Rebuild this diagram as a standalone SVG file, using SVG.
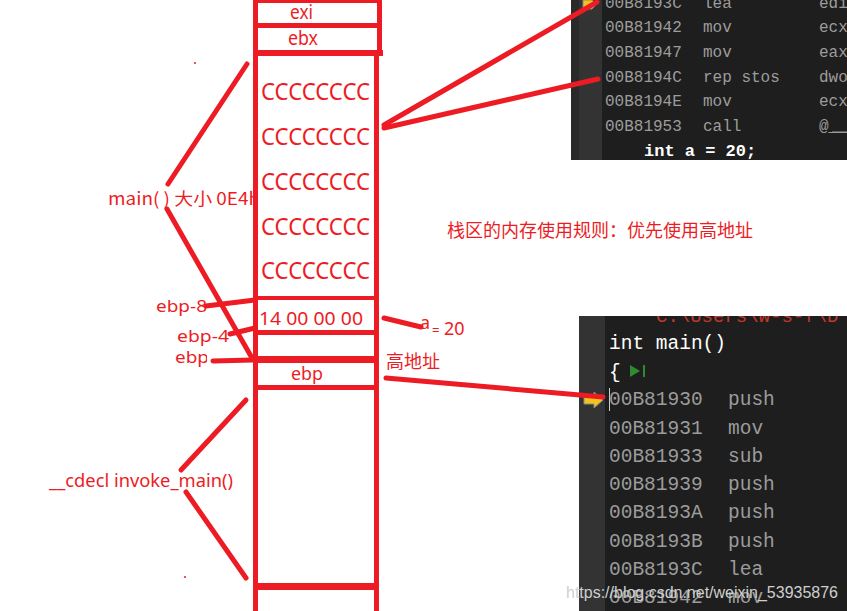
<svg xmlns="http://www.w3.org/2000/svg" width="847" height="611" viewBox="0 0 847 611">
<style>
.red{fill:#ed1c24}
.lbl{font-family:"Noto Sans","Liberation Sans",sans-serif;fill:#ed1c24}
.cjk{font-family:"Noto Sans CJK SC","Noto Sans",sans-serif;fill:#ed1c24}
.cc{font-family:"Noto Sans","Liberation Sans",sans-serif;fill:#ed1c24;font-size:24px}
.ln{stroke:#ed1c24;stroke-width:5;stroke-linecap:round;fill:none}
.mono{font-family:"Liberation Mono","DejaVu Sans Mono",monospace}
.g{fill:#9c9c9c}
.w{fill:#ffffff}
</style>
<defs>
<clipPath id="clipEbp"><rect x="150" y="340" width="57" height="30"/></clipPath>
<clipPath id="clipMain"><rect x="90" y="180" width="165" height="40"/></clipPath>
<clipPath id="clipBot"><rect x="579" y="316" width="268" height="295"/></clipPath>
</defs>
<rect width="847" height="611" fill="#ffffff"/>

<g id="code-top">
<rect x="571" y="0" width="276" height="160" fill="#1e1e1e"/>
<rect x="571" y="0" width="8" height="160" fill="#2a2a2a"/>
<rect x="579" y="0" width="23" height="160" fill="#333333"/>
<path d="M583,0 L592,0 L597,4 L592,9 L583,9 Z" fill="#f2c318" stroke="#888" stroke-width="1"/>
<g class="mono g" font-size="16">
<text x="605" y="8">00B8193C</text><text x="703" y="8">lea</text><text x="819" y="8">edi</text>
<text x="605" y="32">00B81942</text><text x="703" y="32">mov</text><text x="819" y="32">ecx</text>
<text x="605" y="57">00B81947</text><text x="703" y="57">mov</text><text x="819" y="57">eax</text>
<text x="605" y="82">00B8194C</text><text x="703" y="82">rep stos</text><text x="819" y="82">dwo</text>
<text x="605" y="106">00B8194E</text><text x="703" y="106">mov</text><text x="819" y="106">ecx</text>
<text x="605" y="131">00B81953</text><text x="703" y="131">call</text><text x="819" y="131">@__</text>
</g>
<line x1="832" y1="132" x2="847" y2="132" stroke="#9c9c9c" stroke-width="1"/>
<text x="644" y="156" class="mono w" font-size="17" font-weight="bold">int a = 20;</text>
</g>

<g id="code-bottom">
<rect x="579" y="316" width="268" height="295" fill="#1e1e1e"/>
<rect x="579" y="316" width="26" height="295" fill="#333333"/>
<g clip-path="url(#clipBot)">
<text x="656" y="322" class="mono" font-size="19" fill="#c0392b">C:\Users\w-s-f\D</text>
</g>
<text x="609" y="349" class="mono w" font-size="19.5">int main()</text>
<text x="609" y="378" class="mono w" font-size="19.5">{</text>
<path d="M630,365 L640,371 L630,377 Z" fill="#2e8b2e"/>
<rect x="643" y="365" width="2" height="12" fill="#2e8b2e"/>
<path d="M584,396 L594,396 L594,392 L603,400 L594,408 L594,404 L584,404 Z" fill="#f2c318" stroke="#888" stroke-width="1"/>
<line x1="609.5" y1="388" x2="609.5" y2="411" stroke="#cccccc" stroke-width="1"/>
<g class="mono g" font-size="19.5">
<text x="609" y="405">00B81930</text><text x="728" y="405">push</text>
<text x="609" y="434">00B81931</text><text x="728" y="434">mov</text>
<text x="609" y="462">00B81933</text><text x="728" y="462">sub</text>
<text x="609" y="490">00B81939</text><text x="728" y="490">push</text>
<text x="609" y="518">00B8193A</text><text x="728" y="518">push</text>
<text x="609" y="547">00B8193B</text><text x="728" y="547">push</text>
<text x="609" y="575">00B8193C</text><text x="728" y="575">lea</text>
<text x="609" y="603">00B81942</text><text x="728" y="603">mov</text>
</g>
</g>

<g id="stack">
<rect x="253" y="0" width="5" height="611" class="red"/>
<rect x="377" y="0" width="5" height="55" class="red"/>
<rect x="374" y="55" width="5" height="556" class="red"/>
<rect x="253" y="0" width="129" height="3" class="red"/>
<rect x="253" y="23" width="129" height="5" class="red"/>
<rect x="253" y="50" width="130" height="6" class="red"/>
<rect x="253" y="296" width="126" height="4" class="red"/>
<rect x="253" y="330" width="126" height="5" class="red"/>
<rect x="253" y="356" width="126" height="7" class="red"/>
<rect x="253" y="385" width="126" height="5" class="red"/>
<rect x="253" y="583" width="126" height="7" class="red"/>
</g>

<g id="cells-text">
<text x="290" y="19" class="lbl" font-size="19" textLength="23" lengthAdjust="spacingAndGlyphs">exi</text>
<text x="288" y="45" class="lbl" font-size="19" textLength="30" lengthAdjust="spacingAndGlyphs">ebx</text>
<text x="261" y="100" class="cc" textLength="109" lengthAdjust="spacingAndGlyphs">CCCCCCCC</text>
<text x="261" y="145" class="cc" textLength="109" lengthAdjust="spacingAndGlyphs">CCCCCCCC</text>
<text x="261" y="190" class="cc" textLength="109" lengthAdjust="spacingAndGlyphs">CCCCCCCC</text>
<text x="261" y="235" class="cc" textLength="109" lengthAdjust="spacingAndGlyphs">CCCCCCCC</text>
<text x="261" y="279" class="cc" textLength="109" lengthAdjust="spacingAndGlyphs">CCCCCCCC</text>
<text x="259" y="325" class="lbl" font-size="18" textLength="104" lengthAdjust="spacingAndGlyphs">14 00 00 00</text>
<text x="291" y="380" class="lbl" font-size="18" textLength="32" lengthAdjust="spacingAndGlyphs">ebp</text>
</g>

<g id="labels">
<g clip-path="url(#clipMain)">
<text x="108" y="205" class="cjk" font-size="17.5" textLength="152" lengthAdjust="spacingAndGlyphs">main( ) 大小 0E4h</text>
</g>
<text x="156" y="312" class="lbl" font-size="17" textLength="51" lengthAdjust="spacingAndGlyphs">ebp-8</text>
<text x="177" y="342" class="lbl" font-size="17" textLength="52" lengthAdjust="spacingAndGlyphs">ebp-4</text>
<g clip-path="url(#clipEbp)">
<text x="175" y="363" class="lbl" font-size="17" textLength="34" lengthAdjust="spacingAndGlyphs">ebp</text>
</g>
<text x="49" y="487" class="lbl" font-size="17.5" textLength="184" lengthAdjust="spacingAndGlyphs">__cdecl invoke_main()</text>
<text x="420" y="329" class="lbl" font-size="18">a</text>
<text x="432" y="335" class="lbl" font-size="13">=</text>
<text x="444" y="335" class="lbl" font-size="18">20</text>
<text x="386" y="368" class="cjk" font-size="18">高地址</text>
<text x="447" y="237" class="cjk" font-size="18" textLength="306" lengthAdjust="spacingAndGlyphs">栈区的内存使用规则：优先使用高地址</text>
</g>

<g id="connectors">
<line class="ln" x1="168" y1="184" x2="247" y2="64"/>
<line class="ln" x1="167" y1="209" x2="252" y2="358"/>
<line class="ln" x1="206" y1="306" x2="255" y2="300"/>
<line class="ln" x1="230" y1="334" x2="255" y2="328"/>
<line class="ln" x1="213" y1="361" x2="253" y2="360"/>
<line class="ln" x1="181" y1="470" x2="246" y2="400"/>
<line class="ln" x1="186" y1="492" x2="246" y2="578"/>
<line class="ln" x1="384" y1="125" x2="597" y2="2"/>
<line class="ln" x1="384" y1="128" x2="598" y2="79"/>
<line class="ln" x1="384" y1="318" x2="421" y2="327"/>
<line class="ln" x1="386" y1="378" x2="603" y2="397"/>
<circle cx="195" cy="63" r="1" class="red"/>
<circle cx="185" cy="577" r="1" class="red"/>
</g>

<text x="566" y="598" font-family="Liberation Sans,sans-serif" font-size="16" fill="#cfcfcf" textLength="272" lengthAdjust="spacingAndGlyphs">https://blog.csdn.net/weixin_53935876</text>
</svg>
